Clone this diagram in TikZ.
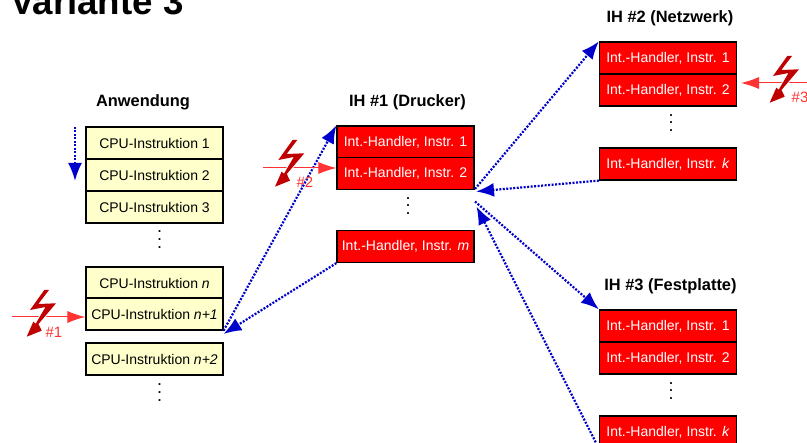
\documentclass[tikz,border=0pt]{standalone}
\usepackage{fontspec}
\setmainfont{Liberation Sans}
\usetikzlibrary{arrows.meta,positioning}
\definecolor{instryellow}{RGB}{255,255,204}
\definecolor{flowblue}{RGB}{0,0,204}
\definecolor{irqred}{RGB}{255,51,51}
\definecolor{boltred}{RGB}{192,0,0}
\newcommand{\moredots}{\vbox{\baselineskip7.7pt \lineskiplimit0pt \hbox{.}\hbox{.}\hbox{.}}}
\tikzset{
	bolt/.pic={
		\path[draw=white,fill=white,line width=2pt] (3.3,-20) -- (8,-20) -- (-2.7,-6) -- (15,-6.7) -- (-2.5,14) -- (0.7,20.7) -- (-14.3,26.7) -- (-7.7,11.7) -- (-5.3,13.7) -- (4.5,-3) -- (-11,0) -- cycle;
		\fill[boltred] (3.3,-20) -- (8,-20) -- (-2.7,-6) -- (15,-6.7) -- (-2.5,14) -- (0.7,20.7) -- (-14.3,26.7) -- (-7.7,11.7) -- (-5.3,13.7) -- (4.5,-3) -- (-11,0) -- cycle;
	}
}
\begin{document}
\begin{tikzpicture}[x=1pt,y=-1pt,
	instr/.style={draw,line width=1.2pt,minimum width=137pt,minimum height=32pt,inner sep=0pt,font=\fontsize{14}{16}\selectfont},
	cpu/.style={instr,fill=instryellow},
	handler/.style={instr,fill=red,text=white},
	heading/.style={font=\bfseries\fontsize{16.4}{18}\selectfont},
	more/.style={inner sep=0pt,font=\fontsize{18}{19}\selectfont},
	flow/.style={draw=flowblue,line width=2.2pt,dash pattern=on 2pt off 1.5pt,-{Latex[length=18pt,width=14pt,sep=0pt]}},
	irq/.style={draw=irqred,line width=1pt,-{Latex[length=18pt,width=12pt]}},
	irqlabel/.style={text=irqred,font=\fontsize{15}{17}\selectfont}]

	\useasboundingbox (0,0) rectangle (807,443);

	\node[anchor=base west,inner sep=0pt,font=\bfseries\fontsize{36.7}{37}\selectfont] (title) at (10,15) {Variante 3};

	\node[heading] (app) at (143,102) {Anwendung};
	\node[cpu] (cpu1) at (154.5,143) {CPU-Instruktion 1};
	\node[cpu] (cpu2) [below of=cpu1, node distance=32pt] {CPU-Instruktion 2};
	\node[cpu] (cpu3) [below of=cpu2, node distance=32pt] {CPU-Instruktion 3};
	\node[more] (dots1) at (159.5,239.5) {\moredots};
	\node[cpu] (cpun) at (154.5,283) {CPU-Instruktion \textit{n}};
	\node[cpu] (cpun1) [below of=cpun, node distance=31pt] {CPU-Instruktion \textit{n+1}};
	\node[cpu] (cpun2) at (154.5,359) {CPU-Instruktion \textit{n+2}};
	\node[more] (dots2) at (159.5,392.5) {\moredots};

	\node[heading] (ih1) at (407.5,102) {IH \#1 (Drucker)};
	\node[handler] (ih1a) at (405.5,142) {Int.-Handler, Instr. 1};
	\node[handler] (ih1b) [below of=ih1a, node distance=31.5pt] {Int.-Handler, Instr. 2};
	\node[more] (dots3) at (408,206) {\moredots};
	\node[handler] (ih1m) at (405.5,246.5) {Int.-Handler, Instr. \textit{m}};

	\node[heading] (ih2) at (670,18) {IH \#2 (Netzwerk)};
	\node[handler] (ih2a) at (668,58) {Int.-Handler, Instr. 1};
	\node[handler] (ih2b) [below of=ih2a, node distance=32pt] {Int.-Handler, Instr. 2};
	\node[more] (dots4) at (671,123) {\moredots};
	\node[handler] (ih2k) at (668,164) {Int.-Handler, Instr. \textit{k}};

	\node[heading] (ih3) at (670.5,286) {IH \#3 (Festplatte)};
	\node[handler] (ih3a) at (668,326) {Int.-Handler, Instr. 1};
	\node[handler] (ih3b) [below of=ih3a, node distance=32pt] {Int.-Handler, Instr. 2};
	\node[more] (dots5) at (671,391) {\moredots};
	\node[handler] (ih3k) at (668,432) {Int.-Handler, Instr. \textit{k}};

	\coordinate (ih1out) at (475,189);
	\coordinate (ih1in) at (476,191.5);
	\coordinate (ih1down) at (475,201.5);
	\coordinate (ih1back) at (476.5,206.5);
	\coordinate (cpuback) at (223.5,334);
	\coordinate (seqstart) at (75,127);
	\coordinate (seqend) at (75,181);

	\draw[flow] (seqstart) -- (seqend);
	\draw[flow] (cpun1.south east) -- (ih1a.north west);
	\draw[flow] (ih1m.south west) -- (cpuback);
	\draw[flow] (ih1out) -- (ih2a.north west);
	\draw[flow] (ih2k.south west) -- (ih1in);
	\draw[flow] (ih1down) -- (ih3a.north west);
	\draw[flow] (ih3k.south west) -- (ih1back);

	\coordinate (irq1from) at (12,317);
	\coordinate (irq2from) at (263,168);
	\coordinate (irq3from) at (807,83);
	\coordinate (irq3to) at (741,83);
	\draw[irq] (irq1from) -- (cpun1.west |- irq1from);
	\draw[irq] (irq2from) -- (ih1b.west |- irq2from);
	\draw[irq] (irq3from) -- (irq3to);

	\pic at (41,310) {bolt};
	\pic at (289.3,160) {bolt};
	\pic at (784,76) {bolt};

	\node[irqlabel] (lab1) at (54,332) {\#1};
	\node[irqlabel] (lab2) at (305,182) {\#2};
	\node[irqlabel] (lab3) at (800,97) {\#3};

\end{tikzpicture}
\end{document}
